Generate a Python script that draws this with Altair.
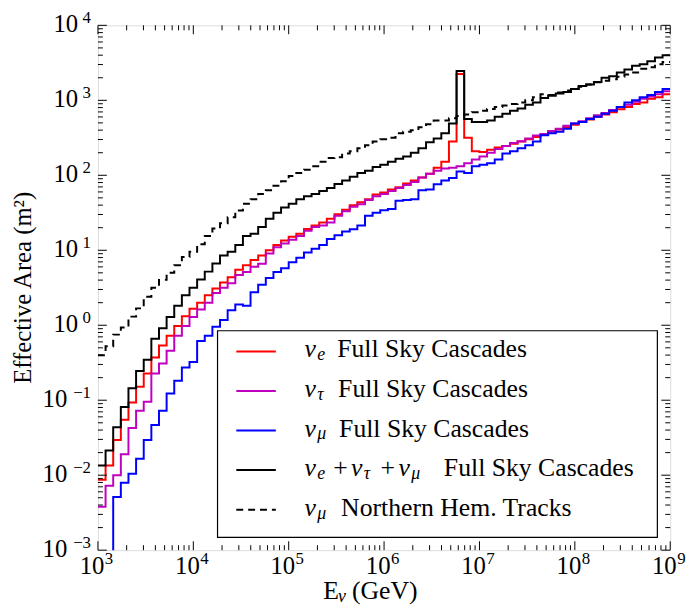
import numpy as np
import pandas as pd
import altair as alt

# ---- data (log10 of effective area in m^2, 75 bins of 0.08 dex from 1e3 GeV) ----
nue_log = [
    -2.06, -1.87, -1.53, -1.26, -1.03, -0.82, -0.645, -0.43, -0.27, -0.14,
    -0.01, 0.12, 0.22, 0.30, 0.40, 0.49, 0.57, 0.64, 0.74, 0.80,
    0.87, 0.93, 1.00, 1.07, 1.13, 1.18, 1.22, 1.285, 1.33, 1.37,
    1.42, 1.48, 1.54, 1.60, 1.64, 1.68, 1.745, 1.77, 1.81, 1.84,
    1.89, 1.93, 1.97, 2.02, 2.10, 2.18, 2.45, 3.35, 2.50, 2.32,
    2.31, 2.34, 2.37, 2.39, 2.42, 2.45, 2.48, 2.51, 2.54, 2.58,
    2.61, 2.645, 2.675, 2.71, 2.745, 2.78, 2.81, 2.84, 2.88, 2.91,
    2.95, 2.97, 3.02, 3.04, 3.08]
nutau_log = [
    -2.42, -2.14, -2.00, -1.72, -1.37, -1.14, -1.02, -0.645, -0.51, -0.34,
    -0.14, -0.01, 0.11, 0.21, 0.30, 0.43, 0.50, 0.56, 0.67, 0.71,
    0.78, 0.82, 0.957, 1.04, 1.09, 1.14, 1.19, 1.26, 1.31, 1.33,
    1.37, 1.46, 1.52, 1.58, 1.615, 1.67, 1.72, 1.75, 1.79, 1.83,
    1.87, 1.91, 1.97, 2.02, 2.06, 2.09, 2.10, 2.12, 2.16, 2.21,
    2.25, 2.30, 2.35, 2.39, 2.43, 2.455, 2.49, 2.53, 2.55, 2.59,
    2.62, 2.66, 2.69, 2.72, 2.76, 2.80, 2.83, 2.87, 2.91, 2.94,
    2.98, 3.02, 3.05, 3.08, 3.12]
numu_log = [
    -3.3, -3.2, -2.29, -2.10, -1.98, -1.78, -1.53, -1.33, -1.14, -0.91,
    -0.74, -0.565, -0.49, -0.21, -0.14, -0.02, 0.07, 0.20, 0.276, 0.26,
    0.44, 0.54, 0.63, 0.71, 0.76, 0.84, 0.90, 0.97, 1.02, 1.07,
    1.15, 1.20, 1.25, 1.28, 1.33, 1.46, 1.50, 1.535, 1.55, 1.66,
    1.67, 1.68, 1.80, 1.81, 1.88, 1.93, 1.965, 2.05, 2.03, 2.12,
    2.14, 2.16, 2.21, 2.29, 2.32, 2.36, 2.40, 2.45, 2.535, 2.56,
    2.58, 2.62, 2.69, 2.71, 2.75, 2.78, 2.82, 2.86, 2.91, 2.97,
    3.00, 3.04, 3.07, 3.11, 3.15]
total_log = [
    -1.87, -1.67, -1.36, -1.09, -0.84, -0.61, -0.46, -0.18, -0.04, 0.11,
    0.26, 0.40, 0.50, 0.61, 0.715, 0.825, 0.93, 0.98, 1.07, 1.19,
    1.22, 1.31, 1.42, 1.50, 1.57, 1.62, 1.68, 1.72, 1.75, 1.79,
    1.83, 1.885, 1.93, 1.98, 2.03, 2.06, 2.11, 2.14, 2.18, 2.22,
    2.25, 2.30, 2.36, 2.44, 2.49, 2.56, 2.69, 3.39, 2.75, 2.71,
    2.71, 2.73, 2.78, 2.82, 2.86, 2.89, 2.94, 2.97, 3.03, 3.06,
    3.09, 3.11, 3.15, 3.19, 3.21, 3.245, 3.30, 3.32, 3.37, 3.41,
    3.46, 3.48, 3.52, 3.57, 3.60]
tracks_log = [
    -0.40, -0.28, -0.125, -0.03, 0.115, 0.225, 0.38, 0.50, 0.605, 0.70,
    0.80, 0.91, 0.98, 1.08, 1.19, 1.29, 1.36, 1.44, 1.53, 1.62,
    1.68, 1.75, 1.80, 1.86, 1.92, 1.99, 2.03, 2.075, 2.12, 2.18,
    2.23, 2.24, 2.29, 2.32, 2.36, 2.40, 2.45, 2.48, 2.50, 2.56,
    2.58, 2.60, 2.64, 2.68, 2.73, 2.73, 2.76, 2.79, 2.81, 2.84,
    2.86, 2.885, 2.91, 2.93, 2.95, 2.97, 3.00, 3.04, 3.08, 3.07,
    3.105, 3.13, 3.15, 3.18, 3.21, 3.24, 3.26, 3.28, 3.315, 3.345,
    3.37, 3.42, 3.44, 3.48, 3.51]

bin_edges = 10 ** (3.0 + 0.08 * np.arange(76))

x_major = [1e3, 1e4, 1e5, 1e6, 1e7, 1e8, 1e9]
x_exp = ["3", "4", "5", "6", "7", "8", "9"]
y_major_pos = [1e0, 1e1, 1e2, 1e3, 1e4]
y_exp_pos = ["0", "1", "2", "3", "4"]
y_major_neg = [1e-3, 1e-2, 1e-1]
y_exp_neg = ["\u22123", "\u22122", "\u22121"]
x_minor = [k * 10 ** d for d in range(3, 9) for k in range(2, 10)]
y_minor = [k * 10.0 ** d for d in range(-3, 4) for k in range(2, 10)]

W, H = 579, 531
FONT = "Liberation Serif"
TS = 26  # text size

xs = alt.Scale(type="log", domain=[1e3, 1e9], nice=False)
ys = alt.Scale(type="log", domain=[1e-3, 1e4], nice=False)


def step_df(logvals):
    v = [10.0 ** a for a in logvals]
    return pd.DataFrame({"E": bin_edges, "A": v + [v[-1]]})


x_axis = alt.Axis(values=x_major, grid=True, gridDash=[1, 3], gridColor="black",
                  gridWidth=0.8, labels=False, ticks=False, domain=False, title=None)
y_axis = alt.Axis(values=y_major_pos + y_major_neg, grid=True, gridDash=[1, 3],
                  gridColor="black", gridWidth=0.8, labels=False, ticks=False,
                  domain=False, title=None)


def line(logvals, color, dash=None, first=False):
    kw = dict(interpolate="step-after", color=color, strokeWidth=2, clip=True)
    if dash:
        kw["strokeDash"] = dash
    return alt.Chart(step_df(logvals)).mark_line(**kw).encode(
        x=alt.X("E:Q", scale=xs, axis=x_axis if first else None),
        y=alt.Y("A:Q", scale=ys, axis=y_axis if first else None),
    )


layers = [
    line(nue_log, "#ff0000", first=True),
    line(nutau_log, "#bf00bf"),
    line(numu_log, "#0000ff"),
    line(total_log, "#000000"),
    line(tracks_log, "#000000", dash=[7, 5]),
]


# inward ticks on all four sides
def xticks(vals, L):
    df = pd.DataFrame({"E": vals})
    b = alt.Chart(df).mark_rule(color="black", strokeWidth=1).encode(
        x=alt.X("E:Q", scale=xs, axis=None), y=alt.value(H), y2=alt.value(H - L))
    t = alt.Chart(df).mark_rule(color="black", strokeWidth=1).encode(
        x=alt.X("E:Q", scale=xs, axis=None), y=alt.value(0), y2=alt.value(L))
    return [b, t]


def yticks(vals, L):
    df = pd.DataFrame({"A": vals})
    l = alt.Chart(df).mark_rule(color="black", strokeWidth=1).encode(
        y=alt.Y("A:Q", scale=ys, axis=None), x=alt.value(0), x2=alt.value(L))
    r = alt.Chart(df).mark_rule(color="black", strokeWidth=1).encode(
        y=alt.Y("A:Q", scale=ys, axis=None), x=alt.value(W), x2=alt.value(W - L))
    return [l, r]


layers += xticks(x_major, 9) + xticks(x_minor, 5) + yticks(y_major_pos + y_major_neg, 9) + yticks(y_minor, 5)

# tick labels: "10" with superscript exponent
xl = pd.DataFrame({"E": x_major, "sup": x_exp})
layers.append(alt.Chart(xl).mark_text(font=FONT, fontSize=25, align="center", baseline="alphabetic", dx=-6).encode(
    x=alt.X("E:Q", scale=xs, axis=None), y=alt.value(H + 24), text=alt.value("10")))
layers.append(alt.Chart(xl).mark_text(font=FONT, fontSize=17, align="left", baseline="alphabetic", dx=7).encode(
    x=alt.X("E:Q", scale=xs, axis=None), y=alt.value(H + 14), text="sup:N"))

for vals, exps, tenx in [(y_major_pos, y_exp_pos, -20), (y_major_neg, y_exp_neg, -31)]:
    yl = pd.DataFrame({"A": vals, "sup": exps})
    layers.append(alt.Chart(yl).mark_text(font=FONT, fontSize=25, align="right", baseline="alphabetic", dy=7).encode(
        y=alt.Y("A:Q", scale=ys, axis=None), x=alt.value(tenx), text=alt.value("10")))
    layers.append(alt.Chart(yl).mark_text(font=FONT, fontSize=17, align="right", baseline="alphabetic", dy=-2).encode(
        y=alt.Y("A:Q", scale=ys, axis=None), x=alt.value(-7), text="sup:N"))

one = pd.DataFrame({"k": [0]})


def txt(s, x, y, size=TS, italic=False, align="left", angle=None, baseline="alphabetic"):
    kw = dict(font=FONT, fontSize=size, align=align, baseline=baseline, color="black")
    if italic:
        kw["fontStyle"] = "italic"
    if angle is not None:
        kw["angle"] = angle
    return alt.Chart(one).mark_text(**kw).encode(x=alt.value(x), y=alt.value(y), text=alt.value(s))


# axis titles
layers.append(txt("Effective Area (m\u00b2)", -76, H / 2, size=25, align="center", angle=270, baseline="middle"))
layers.append(txt("E", 228, H + 49))
layers.append(txt("\u03bd", 243, H + 52, size=18, italic=True))
layers.append(txt("(GeV)", 257, H + 49))

# legend
layers.append(alt.Chart(one).mark_rect(fill="white", stroke="black", strokeWidth=1.2).encode(
    x=alt.value(121), x2=alt.value(566), y=alt.value(309), y2=alt.value(518)))

leg_colors = ["#ff0000", "#bf00bf", "#0000ff", "#000000", "#000000"]
leg_rows = [330, 370, 410, 450, 490]
for i, (c, ry) in enumerate(zip(leg_colors, leg_rows)):
    kw = dict(color=c, strokeWidth=2)
    if i == 4:
        kw["strokeDash"] = [7, 5]
    layers.append(alt.Chart(one).mark_rule(**kw).encode(
        x=alt.value(140), x2=alt.value(180), y=alt.value(ry)))

subs = ["e", "\u03c4", "\u03bc", "e", "\u03bc"]
rest = ["Full Sky Cascades", "Full Sky Cascades", "Full Sky Cascades", None, "Northern Hem.  Tracks"]
rest_x = [242, 243, 244, None, 246]
for i, ry in enumerate(leg_rows):
    layers.append(txt("\u03bd", 209, ry + 6, italic=True))
    layers.append(txt(subs[i], 222, ry + 9, size=18, italic=True))
    if rest[i]:
        layers.append(txt(rest[i], rest_x[i], ry + 6))
# row 4: nu_e + nu_tau + nu_mu Full Sky Cascades
r4 = leg_rows[3]
layers.append(txt("+", 238, r4 + 6))
layers.append(txt("\u03bd", 256, r4 + 6, italic=True))
layers.append(txt("\u03c4", 269, r4 + 9, size=18, italic=True))
layers.append(txt("+", 286, r4 + 6))
layers.append(txt("\u03bd", 304, r4 + 6, italic=True))
layers.append(txt("\u03bc", 317, r4 + 9, size=18, italic=True))
layers.append(txt("Full Sky Cascades", 350, r4 + 6))

chart = alt.layer(*layers).properties(
    width=W, height=H,
    autosize=alt.AutoSizeParams(type="none"),
    padding={"left": 91, "top": 14, "right": 18, "bottom": 58},
).configure_view(stroke="black", strokeWidth=1.2).configure(background="white")

chart.save("out.html", embed_options={"renderer": "svg", "actions": False})
